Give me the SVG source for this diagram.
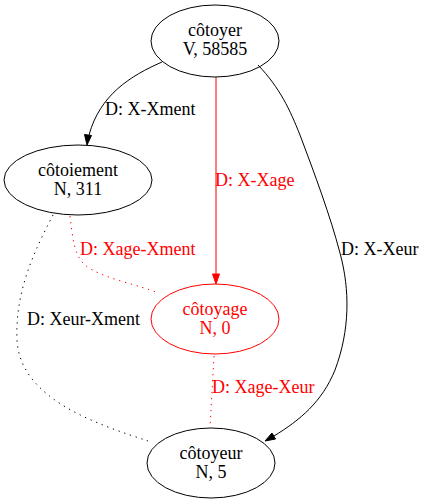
<svg xmlns="http://www.w3.org/2000/svg" width="423" height="501" viewBox="0 0 423 501">
<style>
text,.t{font-family:"Liberation Serif",serif;font-size:18px}
.c{text-anchor:middle}
.n{fill:none;stroke:#000;stroke-width:1}
.r{fill:none;stroke:#f00;stroke-width:1}
.e{fill:none;stroke:#000;stroke-width:1}
.er{fill:none;stroke:#f00;stroke-width:1}
.dot{stroke-dasharray:1.3,4.7}
.red{fill:#f00}
</style>
<rect width="423" height="501" fill="#fff"/>
<g id="edges">
<path class="e" d="M162,62 C130,76 100,95 89,135"/>
<polygon points="84.5,134.5 91.5,135.5 87,145" fill="#000" stroke="#000"/>
<text class="t" x="105" y="115">D: X-Xment</text>
<path class="er" d="M216,77 L216,274"/>
<polygon points="212.5,274 219.5,274 216,284" fill="#f00" stroke="#f00"/>
<text x="215" y="186" class="t red">D: X-Xage</text>
<path class="e" d="M258,65 C280,88 290,110 300,135 C315,175 330,215 340,253 C350,290 350,330 335,370 C322,402 300,420 274,436"/>
<polygon points="275.5,439 272,433 265,441" fill="#000" stroke="#000"/>
<text class="t" x="341" y="255">D: X-Xeur</text>
<path class="er dot" d="M70,216 C73,240 74,255 85,265 C100,278 140,285 158,293"/>
<text x="80" y="255" class="t red">D: Xage-Xment</text>
<path class="e dot" d="M53,215 C35,250 15,290 17,340 C20,400 100,425 148,441"/>
<text class="t" x="27" y="325">D: Xeur-Xment</text>
<path class="er dot" d="M214,356 L210,428"/>
<text x="212" y="393" class="t red">D: Xage-Xeur</text>
</g>
<g id="n_cotoyer">
<ellipse class="n" cx="215" cy="41" rx="64" ry="36"/>
<text x="215" y="36" class="t c">côtoyer</text>
<text x="215" y="55" class="t c">V, 58585</text>
</g>
<g id="n_cotoiement">
<ellipse class="n" cx="78" cy="180" rx="74" ry="35"/>
<text x="78" y="176" class="t c">côtoiement</text>
<text x="78" y="195" class="t c">N, 311</text>
</g>
<g id="n_cotoyage">
<ellipse class="r" cx="215" cy="319" rx="64" ry="35"/>
<text x="215" y="315" class="t c red">côtoyage</text>
<text x="215" y="334" class="t c red">N, 0</text>
</g>
<g id="n_cotoyeur">
<ellipse class="n" cx="211" cy="463" rx="64" ry="35"/>
<text x="211" y="459" class="t c">côtoyeur</text>
<text x="211" y="478" class="t c">N, 5</text>
</g>
</svg>
